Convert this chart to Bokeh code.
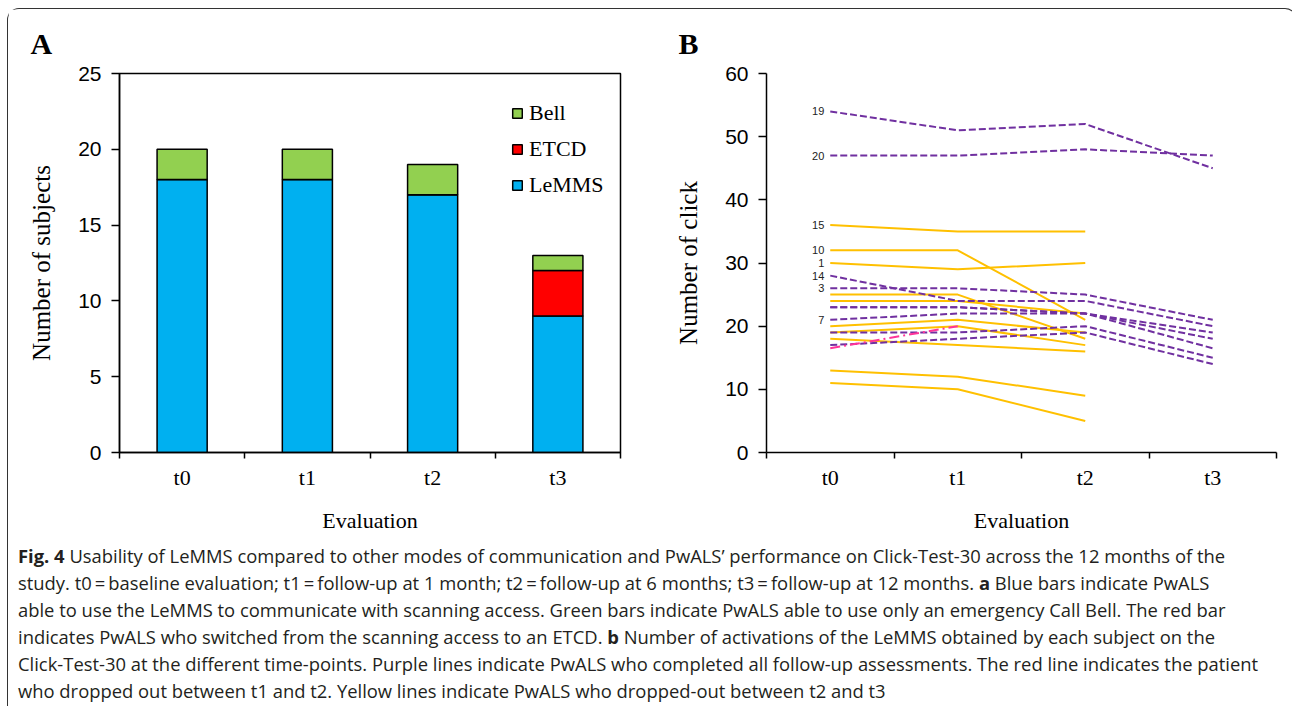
from bokeh.plotting import figure
from bokeh.models import (FixedTicker, Legend, LegendItem, Title, Div, Range1d,
                          ColumnDataSource)
from bokeh.layouts import column, row
from bokeh.core.properties import value
from bokeh.embed import file_html
from bokeh.resources import INLINE

# ---------------- data ----------------
timepoints = ["t0", "t1", "t2", "t3"]

# Panel A: number of subjects per communication mode
lemms = [18, 18, 17, 9]
etcd = [0, 0, 0, 3]
bell = [2, 2, 2, 1]

# Panel B: number of clicks per subject (purple: completed all follow-ups)
p19 = [54, 51, 52, 45]
p20 = [47, 47, 48, 47]
p14 = [28, 24, 24, 20]
p3 = [26, 26, 25, 21]
p_a = [23, 23, 22, 19]
p_b = [23, 23, 22, 16.5]
p7 = [21, 22, 22, 18]
p_c = [19, 19, 20, 15]
p_d = [17, 18, 19, 14]

# red/pink: dropped out between t1 and t2
r_a = [16.5, 20]

# yellow: dropped out between t2 and t3
y15 = [36, 35, 35]
y10 = [32, 32, 21]
y1 = [30, 29, 30]
y_a = [25, 25, 18]
y_b = [24, 24, 22]
y_c = [20, 21, 19]
y_d = [19, 20, 17]
y_e = [18, 17, 16]
y_f = [13, 12, 9]
y_g = [11, 10, 5]

purple_series = [p19, p20, p14, p3, p_a, p_b, p7, p_c, p_d]
yellow_series = [y15, y10, y1, y_a, y_b, y_c, y_d, y_e, y_f, y_g]
red_series = [r_a]

# subject labels at t0
label_ids = ["19", "20", "15", "10", "1", "14", "3", "7"]
label_series = [p19, p20, y15, y10, y1, p14, p3, p7]

a_yticks = [0, 5, 10, 15, 20, 25]
b_yticks = [0, 10, 20, 30, 40, 50, 60]

SERIF = "Liberation Serif"
SANS = "Liberation Sans"

BLUE = "#00B0F0"
RED = "#FF0000"
GREEN = "#92D050"
YELLOW = "#FFC000"
PURPLE = "#7030A0"
PINK = "#FF3399"

n = len(timepoints)
centers = [i + 0.5 for i in range(n)]
boundaries = list(range(n + 1))


def style_axes(p, yticks, ylabel):
    p.xgrid.visible = False
    p.ygrid.visible = False
    xa = p.xaxis[0]
    xa.ticker = FixedTicker(ticks=centers, minor_ticks=boundaries)
    xa.major_label_overrides = {c: t for c, t in zip(centers, timepoints)}
    xa.major_tick_line_color = None
    xa.major_tick_out = 0
    xa.major_tick_in = 0
    xa.minor_tick_out = 6
    xa.minor_tick_in = 0
    xa.minor_tick_line_color = "black"
    xa.minor_tick_line_width = 1.5
    xa.axis_line_color = "black"
    xa.axis_line_width = 1.5
    xa.major_label_text_font = SERIF
    xa.major_label_text_font_size = "22px"
    xa.major_label_text_color = "black"
    xa.major_label_standoff = 6
    xa.axis_label = "Evaluation"
    xa.axis_label_text_font = SERIF
    xa.axis_label_text_font_style = "normal"
    xa.axis_label_text_font_size = "22px"
    xa.axis_label_text_color = "black"
    xa.axis_label_standoff = 15

    ya = p.yaxis[0]
    ya.ticker = FixedTicker(ticks=yticks)
    ya.minor_tick_line_color = None
    ya.major_tick_out = 8
    ya.major_tick_in = 0
    ya.major_tick_line_color = "black"
    ya.major_tick_line_width = 1.5
    ya.axis_line_color = "black"
    ya.axis_line_width = 1.5
    ya.major_label_text_font = SANS
    ya.major_label_text_font_size = "21px"
    ya.major_label_text_color = "black"
    ya.major_label_standoff = 10
    ya.axis_label = ylabel
    ya.axis_label_text_font = SERIF
    ya.axis_label_text_font_style = "normal"
    ya.axis_label_text_font_size = "25px"
    ya.axis_label_text_color = "black"
    ya.axis_label_standoff = 20


def panel_letter(p, letter, offset):
    p.add_layout(Title(text=letter, align="left", offset=offset, standoff=26,
                       vertical_align="middle",
                       text_font=SERIF, text_font_style="bold",
                       text_font_size="30px", text_color="black"), "above")


# ---------------- Panel A ----------------
pA = figure(width=652, height=527, x_range=Range1d(0, n), y_range=Range1d(0, 25),
            output_backend="svg", toolbar_location=None,
            min_border_left=111, min_border_right=40, min_border_top=64,
            min_border_bottom=84, outline_line_color="black", outline_line_width=1.5)
style_axes(pA, a_yticks, "Number of subjects")

srcA = ColumnDataSource(dict(x=centers, lemms=lemms, etcd=etcd, bell=bell))
rs = pA.vbar_stack(["lemms", "etcd", "bell"], x="x", width=0.4, source=srcA,
                   fill_color=[BLUE, RED, GREEN], line_color="black", line_width=1.5)
legend = Legend(items=[LegendItem(label="Bell", renderers=[rs[2]]),
                       LegendItem(label="ETCD", renderers=[rs[1]]),
                       LegendItem(label="LeMMS", renderers=[rs[0]])],
                location=(392, 254), glyph_width=12, glyph_height=12,
                label_height=20, spacing=10, padding=0, margin=0,
                label_standoff=6, border_line_color=None,
                background_fill_alpha=0,
                label_text_font=SERIF, label_text_font_size="22px",
                label_text_color="black")
pA.add_layout(legend)
panel_letter(pA, "A", -89)

# ---------------- Panel B ----------------
pB = figure(width=626, height=527, x_range=Range1d(0, n), y_range=Range1d(0, 60),
            output_backend="svg", toolbar_location=None,
            min_border_left=106, min_border_right=10, min_border_top=64,
            min_border_bottom=84, outline_line_color=None)
style_axes(pB, b_yticks, "Number of click")

for s in yellow_series:
    pB.line(centers[:len(s)], s, line_color=YELLOW, line_width=2)
for s in purple_series:
    pB.line(centers[:len(s)], s, line_color=PURPLE, line_width=2, line_dash="7 3")
for s in red_series:
    pB.line(centers[:len(s)], s, line_color=PINK, line_width=2, line_dash="10 4 2 4")

srcL = ColumnDataSource(dict(x=[centers[0]] * len(label_ids),
                             y=[s[0] for s in label_series], t=label_ids))
pB.text(x="x", y="y", text="t", source=srcL, x_offset=-6,
        text_align="right", text_baseline="middle",
        text_font=value(SANS), text_font_size="11px", text_color="#222222")
panel_letter(pB, "B", -88)

# ---------------- caption ----------------
caption = (
    "<div style='padding-left:5px;padding-top:1px'>"
    "<b>Fig. 4</b> Usability of LeMMS compared to other modes of communication and PwALS\u2019 "
    "performance on Click-Test-30 across the 12 months of the<br>"
    "study. t0\u2009=\u2009baseline evaluation; t1\u2009=\u2009follow-up at 1 month; "
    "t2\u2009=\u2009follow-up at 6 months; t3\u2009=\u2009follow-up at 12 months. "
    "<b>a</b> Blue bars indicate PwALS<br>"
    "able to use the LeMMS to communicate with scanning access. Green bars indicate PwALS "
    "able to use only an emergency Call Bell. The red bar<br>"
    "indicates PwALS who switched from the scanning access to an ETCD. <b>b</b> Number of "
    "activations of the LeMMS obtained by each subject on the<br>"
    "Click-Test-30 at the different time-points. Purple lines indicate PwALS who completed "
    "all follow-up assessments. The red line indicates the patient<br>"
    "who dropped out between t1 and t2. Yellow lines indicate PwALS who dropped-out "
    "between t2 and t3</div>"
)
cap = Div(text=caption, width=1278, height=166,
          styles={"font-family": "Open Sans", "font-size": "18.4px",
                  "line-height": "27px", "color": "#231f20",
                  "white-space": "nowrap", "overflow": "hidden"})

layout = column(row(pA, pB), cap, margin=(8, 0, 0, 7),
                styles={"border": "1.5px solid #333", "border-bottom": "none",
                        "border-radius": "12px 12px 0 0"})

open("out.html", "w").write(file_html(layout, INLINE))
